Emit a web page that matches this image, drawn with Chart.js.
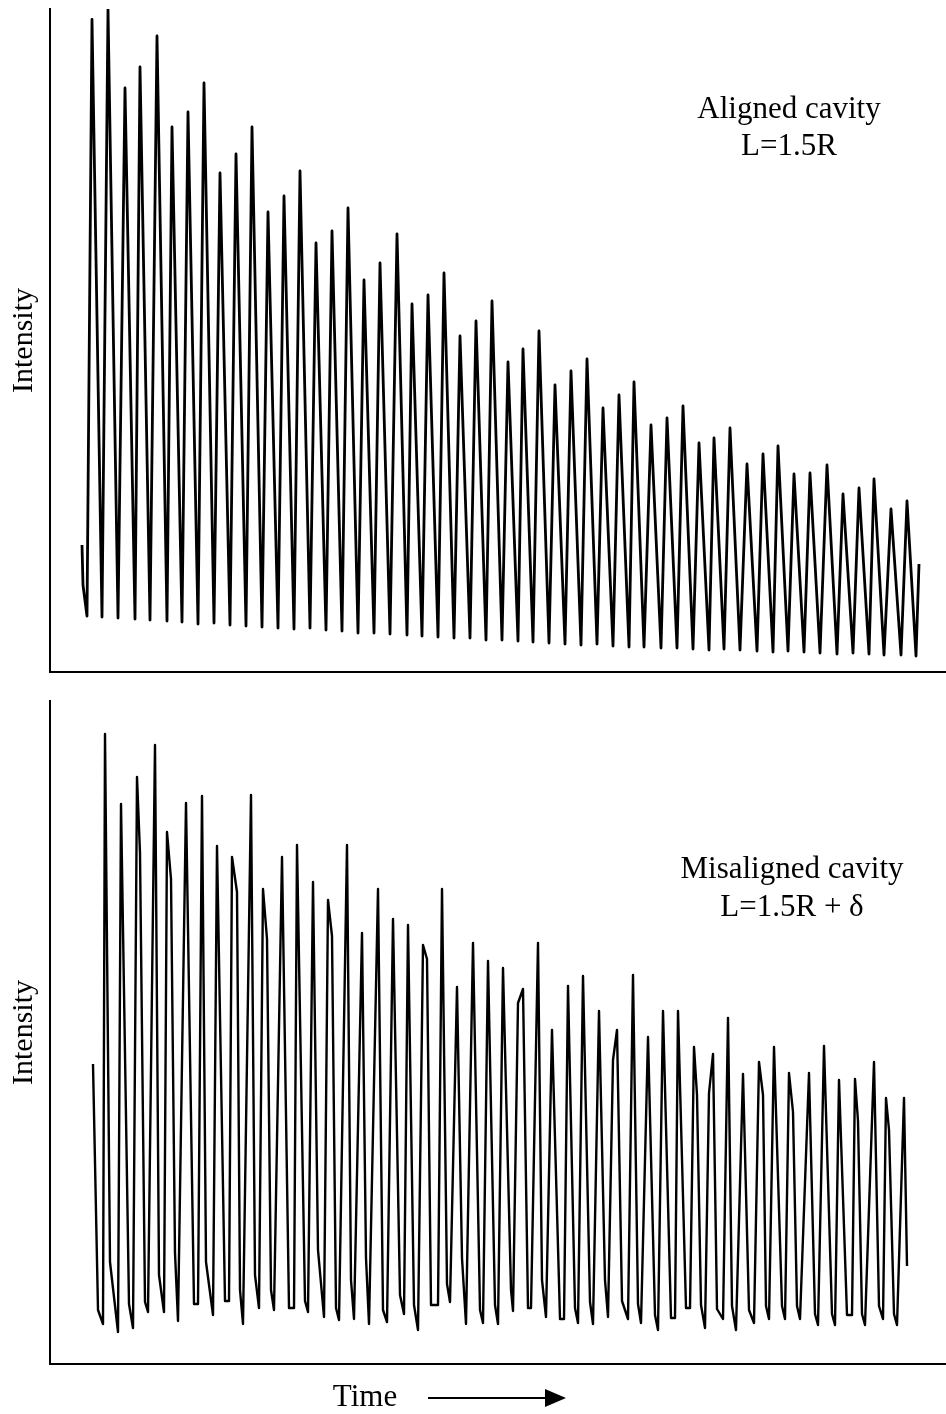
<!DOCTYPE html>
<html>
<head>
<meta charset="utf-8">
<script src="https://cdn.jsdelivr.net/npm/chart.js@4.4.1/dist/chart.umd.min.js"></script>
<style>
  body { margin: 0; background: #fff; }
  #wrap { position: relative; width: 946px; height: 1414px; }
  canvas { position: absolute; left: 0; }
  #topChart { top: 0; }
  #bottomChart { top: 690px; }
</style>
</head>
<body>
<div id="wrap">
  <canvas id="topChart" width="946" height="690"></canvas>
  <canvas id="bottomChart" width="946" height="724"></canvas>
</div>
<script>
// aligned cavity: lead-in, then one peak and one dip per round trip, then tail
const topStartTime = [32, 33, 37];
const topStartLevel = [127, 87, 56];
const topPeakTime = [42, 58, 75, 90, 107, 122, 138, 154, 170, 186, 202, 218, 234, 250, 266, 282, 298, 314, 330, 347,
  362, 378, 394, 410, 426, 442, 458, 473, 489, 505, 521, 537, 553, 569, 584, 601, 617, 633, 649, 664,
  680, 697, 713, 728, 744, 760, 777, 793, 809, 824, 841, 857];
const topPeakLevel = [652.5, 662.5, 584, 605, 636, 545, 560, 589, 499, 518, 545, 460, 476, 501, 429, 441, 464, 392, 409, 438,
  368, 377, 399, 336, 351, 371, 310, 323, 341, 287, 301, 313, 264, 277, 290, 247, 254, 266, 229, 234,
  244, 208, 218, 226, 198, 199, 207, 178, 184, 193, 163, 171];
const topDipTime = [52, 68, 85, 100, 117, 132, 148, 164, 180, 196, 212, 228, 244, 260, 276, 292, 308, 324, 340, 357,
  372, 388, 404, 420, 436, 452, 468, 483, 499, 515, 531, 547, 563, 579, 594, 611, 627, 643, 659, 674,
  690, 707, 723, 738, 754, 770, 787, 803, 819, 834, 851, 866];
const topDipLevel = [55, 54, 53, 52, 51, 50, 48, 49, 47, 46, 45, 44, 43, 44, 42, 41, 39, 39, 38, 37,
  36, 35, 34, 34, 32, 32, 31, 30, 29, 28, 27, 28, 26, 25, 25, 24, 24, 23, 22, 23,
  22, 21, 20, 21, 20, 19, 18, 19, 18, 17, 17, 16];
const topEndTime = [869];
const topEndLevel = [108];

// misaligned cavity: every corner of the trace, in order
const bottomTime = [43, 48, 53, 55, 60, 68, 71, 79, 83, 87, 90, 95, 98, 105, 109, 114, 117, 121, 125, 128,
  136, 144, 148, 152, 156, 163, 167, 175, 179, 182, 187, 190, 193, 201, 205, 209, 213, 217, 221, 224,
  232, 239, 244, 247, 255, 258, 263, 268, 274, 278, 282, 286, 289, 297, 301, 304, 312, 316, 319,
  328, 333, 337, 343, 350, 354, 358, 364, 368, 373, 377, 381, 388, 392, 397, 400, 407, 412, 416,
  423, 430, 433, 438, 445, 448, 453, 461, 463, 468, 473, 478, 481, 488, 492, 496, 502, 510, 514,
  518, 525, 528, 533, 540, 543, 549, 555, 558, 563, 567, 572, 578, 583, 588, 591, 598, 605, 608,
  613, 621, 625, 628, 636, 640, 644, 647, 651, 655, 659, 663, 667, 673, 678, 682, 686, 693, 699, 704,
  709, 713, 716, 719, 724, 732, 735, 739, 743, 747, 750, 759, 765, 768, 774, 782, 785, 789, 797, 802,
  805, 808, 812, 815, 824, 829, 833, 836, 839, 844, 847, 854, 857];
const bottomLevel = [300, 54, 40, 630, 102, 32, 560, 60, 36, 587, 511, 62, 52, 619, 89, 52, 532, 485, 111, 43,
  561, 60, 60, 568, 102, 49, 518, 63, 63, 507, 472, 74, 40, 569, 89, 56, 475, 425, 74, 54,
  507, 56, 56, 519, 63, 52, 482, 114, 47, 464, 428, 56, 44, 519, 84, 45, 431, 106, 40,
  475, 54, 42, 445, 69, 50, 439, 59, 34, 419, 405, 59, 59, 475, 80, 62, 377, 106, 40,
  421, 54, 41, 403, 59, 40, 396, 74, 53, 361, 375, 56, 56, 421, 84, 47, 334, 45, 45,
  378, 56, 41, 388, 62, 40, 353, 84, 47, 304, 334, 63, 45, 389, 60, 41, 327, 49, 34,
  353, 46, 46, 353, 56, 56, 317, 269, 59, 36, 271, 310, 55, 45, 346, 58, 34, 290, 54, 41,
  302, 269, 58, 45, 317, 58, 45, 291, 252, 58, 45, 291, 50, 39, 318, 50, 39, 284, 49, 49,
  285, 243, 50, 39, 302, 58, 45, 266, 234, 50, 39, 266, 98];

const topLabel = ['Aligned cavity', 'L=1.5R'];
const bottomLabel = ['Misaligned cavity', 'L=1.5R + \u03b4'];
const yTitle = 'Intensity';
const xTitle = 'Time';

const serif = '"Liberation Serif", "Times New Roman", serif';

function Pairs(times, levels) {
  var pts = [];
  for (var i = 0; i < times.length; i++) {
    pts.push({ x: times[i], y: levels[i] });
  }
  return pts;
}

function TopPoints() {
  var pts = Pairs(topStartTime, topStartLevel);
  for (var i = 0; i < topPeakTime.length; i++) {
    pts.push({ x: topPeakTime[i], y: topPeakLevel[i] });
    pts.push({ x: topDipTime[i], y: topDipLevel[i] });
  }
  return pts.concat(Pairs(topEndTime, topEndLevel));
}

// caption inside the panel, plus the time arrow under the lower panel
const panelText = {
  id: 'panelText',
  afterDraw(chart, args, opts) {
    const ctx = chart.ctx;
    const area = chart.chartArea;
    ctx.save();
    ctx.fillStyle = '#000';
    ctx.strokeStyle = '#000';
    ctx.font = '31px ' + serif;
    ctx.textAlign = 'center';
    ctx.textBaseline = 'middle';
    opts.lines.forEach((line, i) => {
      ctx.fillText(line, area.left + opts.dx, area.top + opts.dy + i * opts.gap);
    });
    if (opts.arrow) {
      const y = area.bottom + 34;
      ctx.fillText(xTitle, area.left + 315, y);
      ctx.lineWidth = 2;
      ctx.beginPath();
      ctx.moveTo(area.left + 378, y);
      ctx.lineTo(area.left + 498, y);
      ctx.stroke();
      ctx.beginPath();
      ctx.moveTo(area.left + 495, y - 9);
      ctx.lineTo(area.left + 516, y);
      ctx.lineTo(area.left + 495, y + 9);
      ctx.closePath();
      ctx.fill();
    }
    ctx.restore();
  }
};

function MakeChart(id, points, lineWidth, pad, text) {
  return new Chart(document.getElementById(id), {
    type: 'line',
    data: {
      datasets: [{
        data: points,
        borderColor: '#000',
        borderWidth: lineWidth,
        borderJoinStyle: 'round',
        pointRadius: 0,
        tension: 0,
        fill: false
      }]
    },
    options: {
      responsive: false,
      animation: false,
      events: [],
      layout: { padding: pad, autoPadding: false },
      plugins: {
        legend: { display: false },
        tooltip: { enabled: false },
        panelText: text
      },
      scales: {
        x: {
          type: 'linear',
          min: 0,
          max: 896,
          grid: { display: false, drawTicks: false },
          ticks: { display: false },
          border: { display: true, color: '#000', width: 2 }
        },
        y: {
          min: 0,
          max: 663,
          grid: { display: false, drawTicks: false },
          ticks: { display: false },
          border: { display: true, color: '#000', width: 2 },
          title: {
            display: true,
            text: yTitle,
            color: '#000',
            font: { family: serif, size: 30 },
            padding: { top: 6, bottom: 8 }
          }
        }
      }
    },
    plugins: [panelText]
  });
}

MakeChart('topChart', TopPoints(), 2.8,
  { top: 9, bottom: 18, left: 0, right: 0 },
  { lines: topLabel, dx: 739, dy: 101, gap: 37, arrow: false });

MakeChart('bottomChart', Pairs(bottomTime, bottomLevel), 2.4,
  { top: 11, bottom: 50, left: 0, right: 0 },
  { lines: bottomLabel, dx: 742, dy: 169, gap: 38, arrow: true });
</script>
</body>
</html>
